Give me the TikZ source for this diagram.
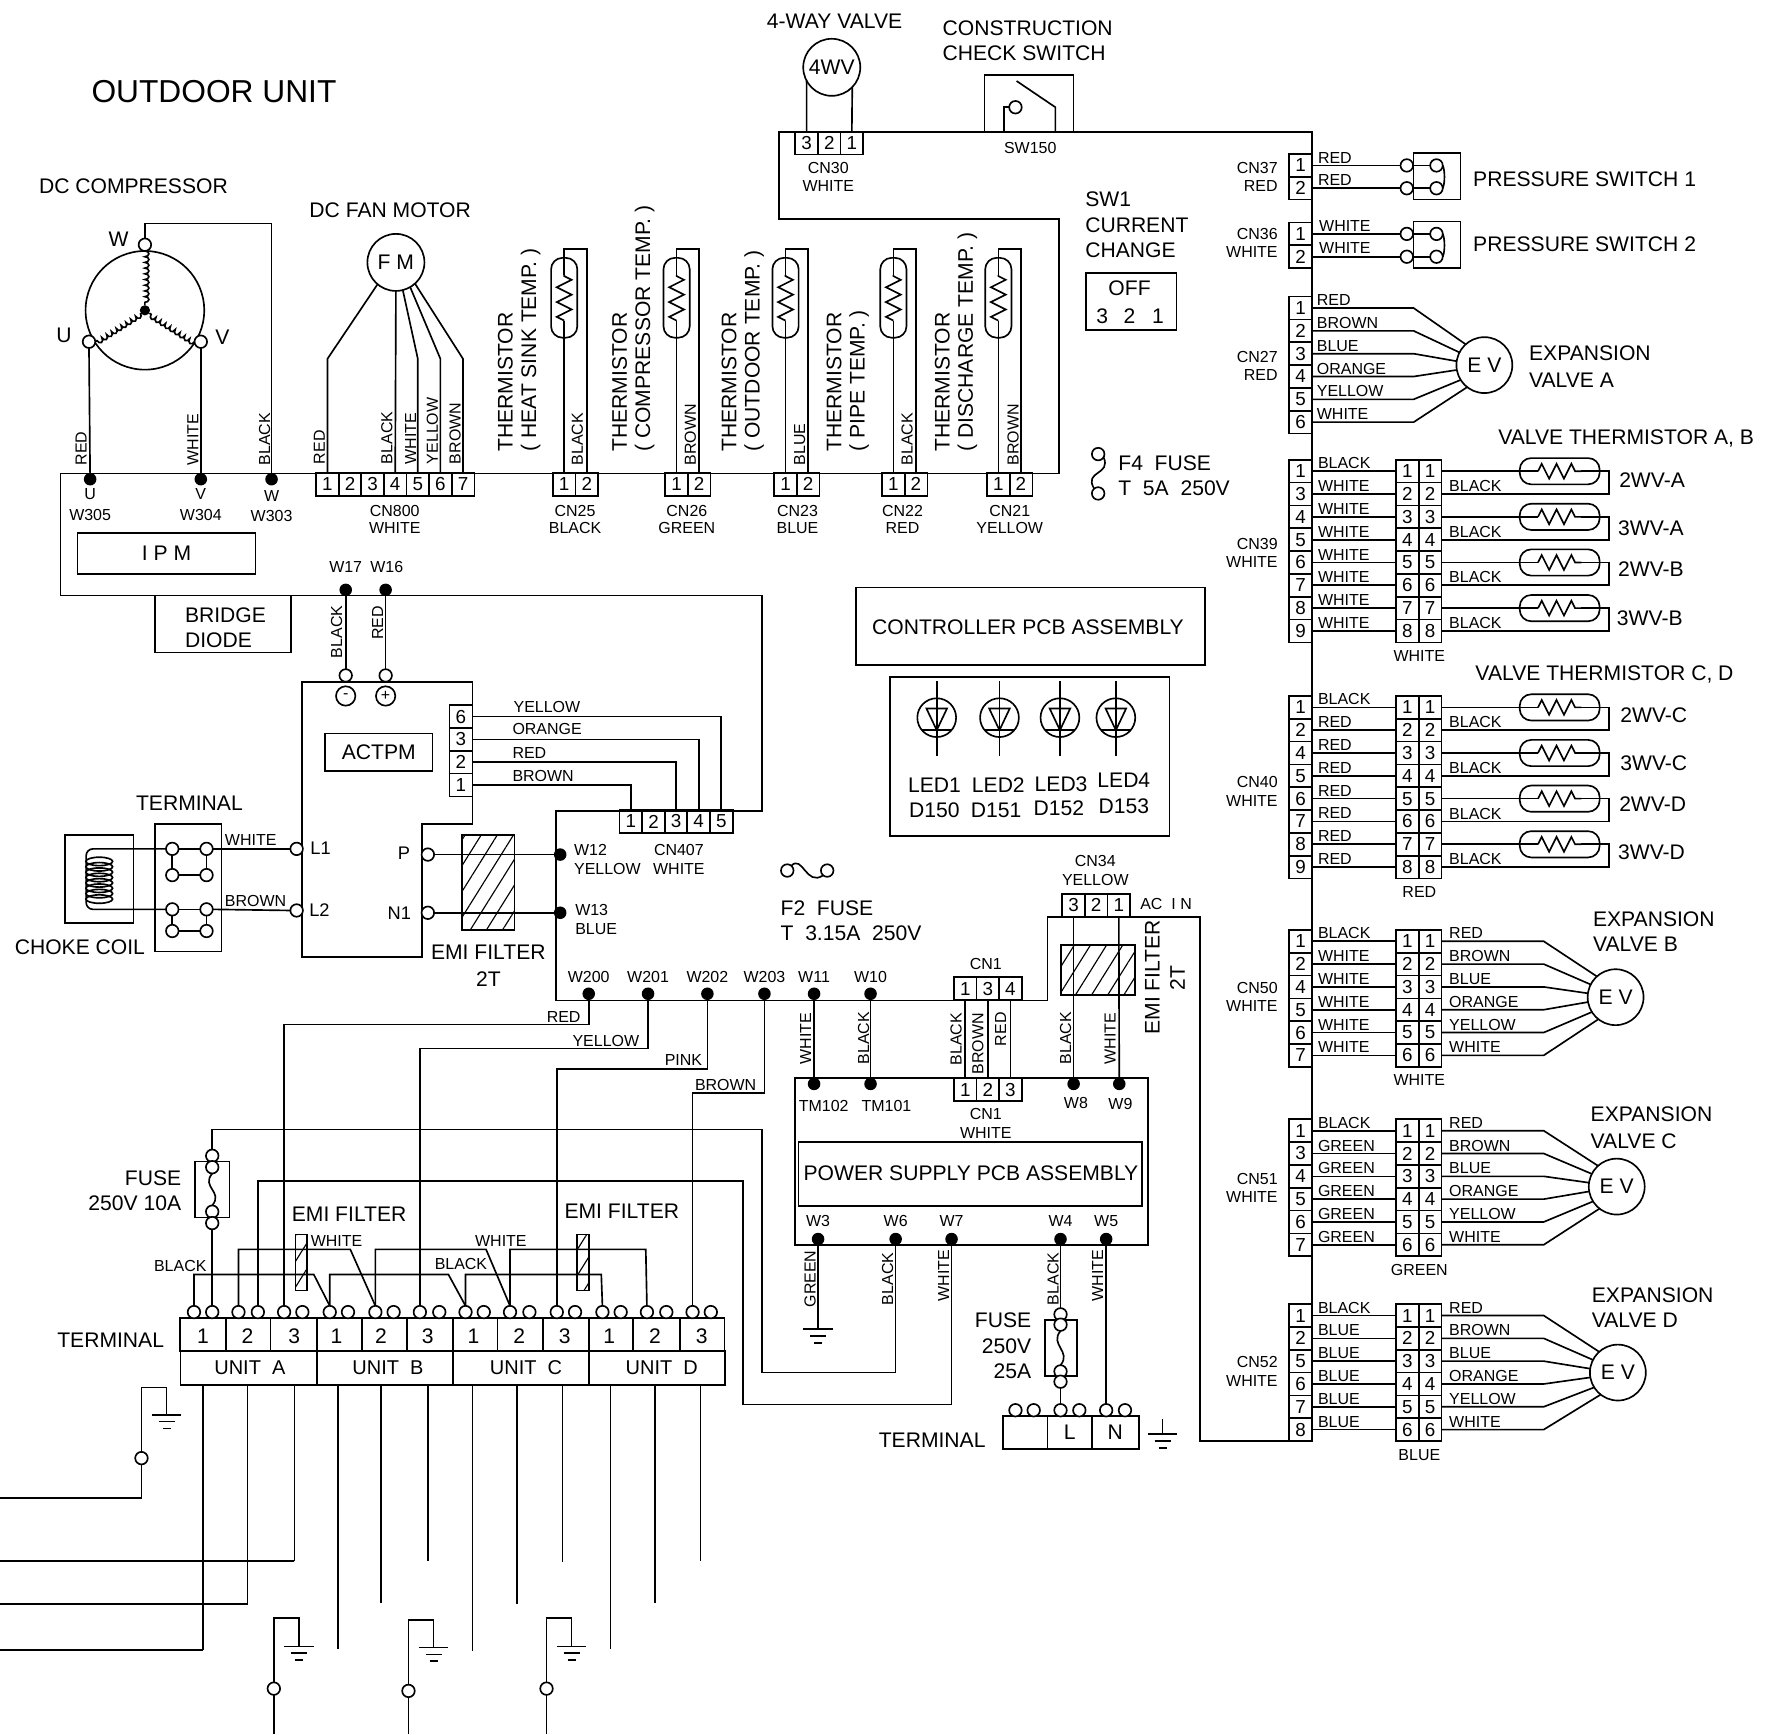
\documentclass[tikz,border=0pt]{standalone}
\usepackage{fontspec}
\setmainfont{Liberation Sans}
\usetikzlibrary{decorations.pathmorphing,patterns.meta}

\tikzset{
	wire/.style={line width=1.45pt},
	board/.style={line width=1.5pt},
	slbl/.style={inner sep=0pt, font=\fontsize{14}{16}\selectfont},
	wlbl/.style={slbl, anchor=west},
	rlbl/.style={slbl, anchor=west, rotate=90},
	mlbl/.style={inner sep=0pt, font=\fontsize{18.5}{21}\selectfont},
	llbl/.style={mlbl, anchor=west},
	mrot/.style={mlbl, anchor=west, rotate=90},
	rrbl/.style={mlbl, anchor=east},
	pinbox/.style={draw, rectangle, line width=1.45pt, minimum width=20pt, minimum height=20pt, inner sep=0pt, outer sep=0pt, font=\fontsize{16.5}{18}\selectfont},
	pcb/.style={draw, rectangle, line width=1.45pt, inner sep=0pt, outer sep=0pt, font=\fontsize{18.5}{21}\selectfont},
	ring/.style={draw, circle, line width=1.45pt, inner sep=0pt, outer sep=0pt, font=\fontsize{18.5}{21}\selectfont},
	term/.style={draw, circle, fill=white, line width=1.45pt, minimum size=11pt, inner sep=0pt, outer sep=0pt},
	sdot/.style={circle, fill=black, minimum size=11pt, inner sep=0pt, outer sep=0pt},
	caph/.style={draw, rectangle, rounded corners=10pt, line width=1.45pt, minimum width=70pt, minimum height=23pt, inner sep=0pt, outer sep=0pt},
	capv/.style={draw, rectangle, rounded corners=10pt, line width=1.45pt, minimum width=23pt, minimum height=70pt, inner sep=0pt, outer sep=0pt},
	zigline/.style={wire, decorate, decoration={zigzag, amplitude=6.5pt, segment length=13pt}},
	coilline/.style={wire, decorate, decoration={bumps, amplitude=3.5pt, segment length=10pt}},
	hatch/.style={draw, rectangle, line width=1.45pt, inner sep=0pt, outer sep=0pt, pattern={Lines[angle=58, distance=12pt, line width=1pt]}}
}

% row and column of connector pins
\newcommand{\pinrow}[4]{\foreach \txt [count=\idx] in {#4} \node [pinbox] (#1-\idx) at ({#2+19.8*(\idx-1)},#3) {\txt};}
\newcommand{\pincol}[4]{\foreach \txt [count=\idx] in {#4} \node [pinbox] (#1-\idx) at (#2,{#3+20*(\idx-1)}) {\txt};}
\newcommand{\wirelabels}[4]{\foreach \txt [count=\idx] in {#4} \node [wlbl] (#1-lb\idx) at (#2,{#3+20*(\idx-1)}) {\txt};}

% thermistor on the upper board edge
\newcommand{\thermv}[2]{
	\pinrow{#1}{#2}{424.5}{1,2}
	\node [capv] (#1-cap) at (#1-1.north |- 0,261) {};
	\coordinate (#1-top) at (#1-1.north |- 0,218);
	\draw [wire] (#1-1.north) -- ([yshift=15pt]#1-cap.south);
	\draw [zigline] ([yshift=15pt]#1-cap.south) -- ([yshift=-15pt]#1-cap.north);
	\draw [wire] ([yshift=-15pt]#1-cap.north) -- (#1-top) -| (#1-2.north);
}

% two way / three way valve thermistors
\newcommand{\valveblock}[6]{
	\pincol{#1}{1140}{#2}{#3}
	\pincol{#1a}{1233.5}{#2}{1,...,8}
	\pincol{#1b}{1253.5}{#2}{1,...,8}
	\wirelabels{#1}{1155}{#2-7}{#4}
	\foreach \idx in {1,...,8} \draw [wire] (#1-\idx.east) -- (#1a-\idx.west);
	\foreach \n/\a/\b in {1/1/2,2/3/4,3/5/6,4/7/8} {
		\node [caph] (#1-cap\n) at (1367,{#2+40*(\n-1)}) {};
		\coordinate (#1-rt\n) at (1410,{#2+40*(\n-1)});
		\draw [wire] (#1b-\a.east) -- ([xshift=16pt]#1-cap\n.west);
		\draw [zigline] ([xshift=16pt]#1-cap\n.west) -- ([xshift=-16pt]#1-cap\n.east);
		\draw [wire] ([xshift=-16pt]#1-cap\n.east) -- (#1-rt\n) |- (#1b-\b.east);
		\node [wlbl] (#1-bl\n) at (1270,{#2+40*(\n-1)+13}) {BLACK};
	}
	\node [slbl] (#1-colour) at (1244,{#2+162}) {#6};
	#5
}

% expansion valve
\newcommand{\evblock}[7]{
	\pincol{#1}{1140}{#2}{#3}
	\pincol{#1a}{1233.5}{#2}{1,...,6}
	\pincol{#1b}{1253.5}{#2}{1,...,6}
	\wirelabels{#1}{1155}{#2-7}{#4}
	\wirelabels{#1r}{1270}{#2-7}{RED,BROWN,BLUE,ORANGE,YELLOW,WHITE}
	\node [ring, minimum size=49pt] (#1-ev) at (#5,#6) {E V};
	\foreach \idx/\ang in {1/132,2/153,3/172,4/190,5/212,6/232} {
		\coordinate (#1-bn\idx) at (1353,{#2+20*(\idx-1)});
		\draw [wire] (#1-\idx.east) -- (#1a-\idx.west);
		\draw [wire] (#1b-\idx.east) -- (#1-bn\idx) -- (#1-ev.\ang);
	}
	\node [slbl] (#1-colour) at (1244,{#2+122}) {#7};
}

% earth symbol
\newcommand{\gndsym}[3]{
	\coordinate (#1) at (#2,#3);
	\draw [wire] ([xshift=-13pt]#1) -- ([xshift=13pt]#1);
	\draw [wire] ([xshift=-7pt,yshift=-6pt]#1) -- ([xshift=7pt,yshift=-6pt]#1);
	\draw [wire] ([xshift=-3.5pt,yshift=-12pt]#1) -- ([xshift=3.5pt,yshift=-12pt]#1);
}

\begin{document}
\begin{tikzpicture}[x=1pt, y=-1pt]
\useasboundingbox (0,0) rectangle (1568,1520);

%%% board outline
\draw [board] (53,415) -- (928,415) -- (928,192) -- (683,192) -- (683,116) -- (1150,116) -- (1150,1263) -- (1052,1263) -- (1052,804) -- (918,804) -- (918,877) -- (487,877) -- (487,711) -- (668,711) -- (668,522) -- (53,522) -- cycle;

%%% titles
\node [llbl, font=\fontsize{27.8}{30}\selectfont] (title) at (80,80) {OUTDOOR UNIT};
\node [llbl] (comp-title) at (34,163) {DC COMPRESSOR};
\node [llbl] (fan-title) at (271,184) {DC FAN MOTOR};
\node [llbl] (v4wv-title) at (672,19) {4-WAY VALVE};
\node [llbl] (sw150-title1) at (826,25) {CONSTRUCTION};
\node [llbl] (sw150-title2) at (826,47) {CHECK SWITCH};

%%% COMPRESSOR
\node [ring, minimum size=104pt] (comp) at (127,272) {};
\node [term] (comp-w) at (127,214.5) {};
\node [term] (comp-u) at (78,299.5) {};
\node [term] (comp-v) at (176,299.5) {};
\node [circle, fill=black, minimum size=9pt, inner sep=0pt] (comp-c) at (127,272) {};
\draw [coilline] (comp-w.south) -- (comp-c);
\draw [coilline] (comp-c) -- (comp-u.east);
\draw [coilline] (comp-v.west) -- (comp-c);
\node [mlbl] (comp-lw) at (104,210) {W};
\node [mlbl] (comp-lu) at (56,294) {U};
\node [mlbl] (comp-lv) at (195,296) {V};
\node [sdot] (w305) at (79,420) {};
\node [sdot] (w304) at (176,420) {};
\node [sdot] (w303) at (238,420) {};
\draw [wire] (comp-u.south) -- (w305);
\draw [wire] (comp-v.south) -- (w304);
\draw [wire] (comp-w.north) -- ++(0,-13) -| (w303);
\node [rlbl] (w305-col) at (71,408) {RED};
\node [rlbl] (w304-col) at (169,408) {WHITE};
\node [rlbl] (w303-col) at (232,408) {BLACK};
\node [slbl] (w305-a) at (79,433) {U};
\node [slbl] (w305-b) at (79,451) {W305};
\node [slbl] (w304-a) at (176,433) {V};
\node [slbl] (w304-b) at (176,451) {W304};
\node [slbl] (w303-a) at (238,435) {W};
\node [slbl] (w303-b) at (238,452) {W303};
\node [pcb, minimum width=156pt, minimum height=36pt] (ipm) at (146,485) {I P M};
\node [pcb, minimum width=119pt, minimum height=50pt] (bridge) at (195.5,547) {};
\node [llbl] (bridge-a) at (162,539) {BRIDGE};
\node [llbl] (bridge-b) at (162,561) {DIODE};

%%% FAN MOTOR
\node [ring, minimum size=50pt] (fm) at (347,230) {F M};
\pinrow{cn800}{287}{424.5}{1,2,3,4,5,6,7}
\draw [wire] (cn800-1.north) -- ++(0,-100) -- (fm.230);
\draw [wire] (cn800-4.north) -- (fm.270);
\draw [wire] (cn800-5.north) -- ++(0,-100) -- (fm.284);
\draw [wire] (cn800-6.north) -- ++(0,-100) -- (fm.300);
\draw [wire] (cn800-7.north) -- ++(0,-100) -- (fm.312);
\node [rlbl] (cn800-c1) at (280,407) {RED};
\node [rlbl] (cn800-c4) at (339,407) {BLACK};
\node [rlbl] (cn800-c5) at (360,407) {WHITE};
\node [rlbl] (cn800-c6) at (379,407) {YELLOW};
\node [rlbl] (cn800-c7) at (399,407) {BROWN};
\node [slbl] (cn800-a) at (346,448) {CN800};
\node [slbl] (cn800-b) at (346,463) {WHITE};

%%% THERMISTORS
\thermv{cn25}{494.5}
\thermv{cn26}{593}
\thermv{cn23}{688.5}
\thermv{cn22}{783}
\thermv{cn21}{875}
\node [rlbl] (cn25-c) at (506,408) {BLACK};
\node [rlbl] (cn26-c) at (605,408) {BROWN};
\node [rlbl] (cn23-c) at (701,408) {BLUE};
\node [rlbl] (cn22-c) at (795,408) {BLACK};
\node [rlbl] (cn21-c) at (888,408) {BROWN};
\foreach \nm/\xx/\la/\lb in {cn25/504/CN25/BLACK,cn26/602/CN26/GREEN,cn23/699/CN23/BLUE,cn22/791/CN22/RED,cn21/885/CN21/YELLOW} {
	\node [slbl] (\nm-a) at (\xx,448) {\la};
	\node [slbl] (\nm-b) at (\xx,463) {\lb};
}
\node [mrot] (th25-a) at (443,396) {THERMISTOR};
\node [mrot] (th25-b) at (465,396) {( HEAT SINK TEMP. )};
\node [mrot] (th26-a) at (543,396) {THERMISTOR};
\node [mrot] (th26-b) at (565,396) {( COMPRESSOR TEMP. )};
\node [mrot] (th23-a) at (639,396) {THERMISTOR};
\node [mrot] (th23-b) at (661,396) {( OUTDOOR TEMP. )};
\node [mrot] (th22-a) at (731,396) {THERMISTOR};
\node [mrot] (th22-b) at (753,396) {( PIPE TEMP. )};
\node [mrot] (th21-a) at (826,396) {THERMISTOR};
\node [mrot] (th21-b) at (848,396) {( DISCHARGE TEMP. )};

%%% 4 WAY VALVE, SWITCHES
\node [ring, minimum size=50pt] (v4wv) at (729,59) {4WV};
\pinrow{cn30}{707}{125.5}{3,2,1}
\draw [wire] (cn30-1.north) -- (v4wv.208);
\draw [wire] (cn30-3.north) -- (v4wv.316);
\node [slbl] (cn30-a) at (726,147) {CN30};
\node [slbl] (cn30-b) at (726,163) {WHITE};
\node [pcb, minimum width=78pt, minimum height=50pt] (sw150) at (902,91) {};
\node [term] (sw150-c) at (890,94) {};
\coordinate (sw150-a) at (880,116);
\coordinate (sw150-k) at (880,94);
\coordinate (sw150-p) at (891,71);
\coordinate (sw150-q) at (925,94);
\coordinate (sw150-r) at (925,116);
\draw [wire] (sw150-a) -- (sw150-k) -- (sw150-c.west);
\draw [wire] (sw150-p) -- (sw150-q) -- (sw150-r);
\node [slbl] (sw150-l) at (903,130) {SW150};
\node [llbl] (sw1-a) at (951,175) {SW1};
\node [llbl] (sw1-b) at (951,197) {CURRENT};
\node [llbl] (sw1-c) at (951,219) {CHANGE};
\node [pcb, minimum width=79pt, minimum height=50pt] (sw1) at (991.5,264) {};
\node [mlbl] (sw1-off) at (990,253) {OFF};
\node [mlbl] (sw1-3) at (966,277) {3};
\node [mlbl] (sw1-2) at (990,277) {2};
\node [mlbl] (sw1-1) at (1015,277) {1};
\node [term] (f4-a) at (962.5,398) {};
\node [term] (f4-b) at (962.5,432.5) {};
\draw [wire] (f4-a.-30) .. controls +(7,16) and +(-9.5,-16) .. (f4-b.130);
\node [llbl] (f4-l1) at (980,406) {F4\ \ FUSE};
\node [llbl] (f4-l2) at (980,428) {T\ \ 5A\ \ 250V};

%%% PRESSURE SWITCHES
\foreach \nm/\yy/\la/\lb/\yl/\yt/\ttl in {cn37/145/CN37/RED/147/157/PRESSURE SWITCH 1,cn36/205/CN36/WHITE/205/214/PRESSURE SWITCH 2} {
	\pincol{\nm}{1140}{\yy}{1,2}
	\node [pcb, minimum width=41pt, minimum height=41pt] (\nm-box) at (1259.5,\yy+9.5) {};
	\foreach \k in {1,2} {
		\node [term] (\nm-o\k) at (1233,{\yy+20*(\k-1)}) {};
		\node [term] (\nm-i\k) at (1259,{\yy+20*(\k-1)}) {};
		\draw [wire] (\nm-\k.east) -- (\nm-o\k.west);
		\draw [wire] (\nm-o\k.east) -- (\nm-i\k.west);
	}
	\draw [wire] (\nm-i1.east) .. controls +(2,4) and +(2,-4) .. (\nm-i2.east);
	\node [slbl, anchor=east] (\nm-a) at (1120,\yl) {\la};
	\node [slbl, anchor=east] (\nm-b) at (1120,\yl+16) {\lb};
	\node [llbl] (\nm-ttl) at (1291,\yt) {\ttl};
}
\wirelabels{cn37}{1155}{138.5}{RED}
\node [wlbl] (cn37-lb2) at (1155,158) {RED};
\wirelabels{cn36}{1156}{198}{WHITE}
\node [wlbl] (cn36-lb2) at (1156,217) {WHITE};

%%% EXPANSION VALVE A
\pincol{cn27}{1140}{270}{1,2,3,4,5,6}
\node [ring, minimum size=49pt] (ev-a) at (1301,320) {E V};
\foreach \idx/\ang in {1/132,2/153,3/172,4/190,5/212,6/232} {
	\coordinate (cn27-bn\idx) at (1239,{270+20*(\idx-1)});
	\draw [wire] (cn27-\idx.east) -- (cn27-bn\idx) -- (ev-a.\ang);
}
\wirelabels{cn27}{1154}{263}{RED,BROWN,BLUE,ORANGE,YELLOW,WHITE}
\node [slbl, anchor=east] (cn27-a) at (1120,313) {CN27};
\node [slbl, anchor=east] (cn27-b) at (1120,329) {RED};
\node [llbl] (ev-a-l1) at (1340,310) {EXPANSION};
\node [llbl] (ev-a-l2) at (1340,333) {VALVE A};

%%% VALVE THERMISTORS
\valveblock{cn39}{413}{1,3,4,5,6,7,8,9}{BLACK,WHITE,WHITE,WHITE,WHITE,WHITE,WHITE,WHITE}{}{WHITE}
\node [llbl] (vt-ab) at (1313,384) {VALVE THERMISTOR A, B};
\node [slbl, anchor=east] (cn39-a) at (1120,477) {CN39};
\node [slbl, anchor=east] (cn39-b) at (1120,493) {WHITE};
\node [llbl] (wv2a) at (1419,421) {2WV-A};
\node [llbl] (wv3a) at (1418,463) {3WV-A};
\node [llbl] (wv2b) at (1418,499) {2WV-B};
\node [llbl] (wv3b) at (1417,542) {3WV-B};
\valveblock{cn40}{620}{1,2,4,5,6,7,8,9}{BLACK,RED,RED,RED,RED,RED,RED,RED}{}{RED}
\node [llbl] (vt-cd) at (1293,591) {VALVE THERMISTOR C, D};
\node [slbl, anchor=east] (cn40-a) at (1120,685) {CN40};
\node [slbl, anchor=east] (cn40-b) at (1120,702) {WHITE};
\node [llbl] (wv2c) at (1420,627) {2WV-C};
\node [llbl] (wv3c) at (1420,669) {3WV-C};
\node [llbl] (wv2d) at (1419,705) {2WV-D};
\node [llbl] (wv3d) at (1418,747) {3WV-D};

%%% EXPANSION VALVES B C D
\evblock{cn50}{825}{1,2,4,5,6,7}{BLACK,WHITE,WHITE,WHITE,WHITE,WHITE}{1416}{874}{WHITE}
\node [slbl, anchor=east] (cn50-a) at (1120,866) {CN50};
\node [slbl, anchor=east] (cn50-b) at (1120,882) {WHITE};
\node [llbl] (ev-b-l1) at (1396,806) {EXPANSION};
\node [llbl] (ev-b-l2) at (1396,828) {VALVE B};
\evblock{cn51}{991}{1,3,4,5,6,7}{BLACK,GREEN,GREEN,GREEN,GREEN,GREEN}{1417}{1040}{GREEN}
\node [slbl, anchor=east] (cn51-a) at (1120,1033) {CN51};
\node [slbl, anchor=east] (cn51-b) at (1120,1049) {WHITE};
\node [llbl] (ev-c-l1) at (1394,977) {EXPANSION};
\node [llbl] (ev-c-l2) at (1394,1000) {VALVE C};
\evblock{cn52}{1153}{1,2,5,6,7,8}{BLACK,BLUE,BLUE,BLUE,BLUE,BLUE}{1418}{1203}{BLUE}
\node [slbl, anchor=east] (cn52-a) at (1120,1194) {CN52};
\node [slbl, anchor=east] (cn52-b) at (1120,1210) {WHITE};
\node [llbl] (ev-d-l1) at (1395,1135) {EXPANSION};
\node [llbl] (ev-d-l2) at (1395,1157) {VALVE D};

%%% CONTROLLER PCB, LEDS
\node [pcb, minimum width=306pt, minimum height=68pt] (ctrl) at (903,549) {};
\node [mlbl] (ctrl-l) at (901,550) {CONTROLLER PCB ASSEMBLY};
\node [pcb, minimum width=245pt, minimum height=139pt] (ledbox) at (902.5,663) {};
\foreach \n/\xx in {1/821,2/876,3/929,4/978} {
	\node [ring, minimum size=34pt] (led\n) at (\xx,629) {};
	\coordinate (led\n-t) at (\xx,597);
	\coordinate (led\n-b) at (\xx,663);
	\draw [wire] (led\n-t) -- (led\n-b);
	\draw [wire] ([shift={(-9,-8)}]led\n.center) -- ([shift={(9,-8)}]led\n.center) -- ([shift={(0,11)}]led\n.center) -- cycle;
	\draw [wire] ([shift={(-13,11)}]led\n.center) -- ([shift={(13,11)}]led\n.center);
}
\foreach \n/\xa/\ya/\xb/\yb/\la/\lb in {1/819/688/819/710/LED1/D150,2/875/688/873/710/LED2/D151,3/930/687/928/708/LED3/D152,4/985/684/985/707/LED4/D153} {
	\node [mlbl] (led\n-a) at (\xa,\ya) {\la};
	\node [mlbl] (led\n-d) at (\xb,\yb) {\lb};
}

%%% DC LINK, ACTPM
\node [sdot] (w17) at (303,517) {};
\node [sdot] (w16) at (338,517) {};
\node [slbl] (w17-l) at (303,497) {W17};
\node [slbl] (w16-l) at (339,497) {W16};
\draw [board] (265,598) -- (414,598) -- (414,722) -- (370,722) -- (370,839) -- (265,839) -- cycle;
\node [term] (act-m) at (303,592) {};
\node [term] (act-p) at (338,592) {};
\draw [wire] (w17) -- (act-m.north);
\draw [wire] (w16) -- (act-p.north);
\node [rlbl] (w17-c) at (295,577) {BLACK};
\node [rlbl] (w16-c) at (331,561) {RED};
\node [ring, minimum size=17pt, font=\fontsize{14}{16}\selectfont] (act-ms) at (303,610) {-};
\node [ring, minimum size=17pt, font=\fontsize{14}{16}\selectfont] (act-ps) at (338,610) {+};
\node [pcb, minimum width=94pt, minimum height=33pt] (actpm) at (332,659.5) {ACTPM};
\pincol{act}{404}{628}{6,3,2,1}
\pinrow{cn407}{553}{720}{1,2,3,4,5}
\draw [wire] (act-1.east) -| (cn407-5.north);
\draw [wire] (act-2.east) -| (cn407-4.north);
\draw [wire] (act-3.east) -| (cn407-3.north);
\draw [wire] (act-4.east) -| (cn407-1.north);
\node [wlbl] (act-c1) at (450,620) {YELLOW};
\node [wlbl] (act-c2) at (449,639) {ORANGE};
\node [wlbl] (act-c3) at (449,660) {RED};
\node [wlbl] (act-c4) at (449,680) {BROWN};
\node [slbl] (cn407-a) at (595,745) {CN407};
\node [slbl] (cn407-b) at (595,762) {WHITE};
\node [term] (act-pp) at (375,749) {};
\node [term] (act-n1) at (375,800) {};
\node [sdot] (w12) at (491,749) {};
\node [sdot] (w13) at (491,800) {};
\node [hatch, minimum width=46pt, minimum height=83pt] (emi-dc) at (428,773.5) {};
\draw [wire] (act-pp.east) -- (w12);
\draw [wire] (act-n1.east) -- (w13);
\node [mlbl, font=\fontsize{16}{18}\selectfont] (act-lp) at (354,748) {P};
\node [mlbl, font=\fontsize{16}{18}\selectfont] (act-ln) at (350,800) {N1};
\node [mlbl] (emi-dc-a) at (428,835) {EMI FILTER};
\node [mlbl] (emi-dc-b) at (428,858) {2T};
\node [wlbl] (w12-a) at (503,745) {W12};
\node [wlbl] (w12-b) at (503,762) {YELLOW};
\node [wlbl] (w13-a) at (504,798) {W13};
\node [wlbl] (w13-b) at (504,814) {BLUE};

%%% CHOKE COIL, TERMINAL
\node [pcb, minimum width=60pt, minimum height=77pt] (choke) at (87,770.5) {};
\node [pcb, minimum width=58pt, minimum height=112pt] (ch-term) at (165,778) {};
\node [mlbl] (ch-term-l) at (166,704) {TERMINAL};
\node [mlbl] (choke-l) at (70,830) {CHOKE COIL};
\foreach \nm/\xx/\yy in {a/151/744,b/181/744,c/151/767,d/181/767,e/151/797,f/181/797,g/151/816,h/181/816}
	\node [term] (ct-\nm) at (\xx,\yy) {};
\node [term] (act-l1) at (260,744) {};
\node [term] (act-l2) at (260,798) {};
\coordinate (coil-l) at (75.5,770);
\draw [wire, rounded corners=6pt] (ct-a.west) -| (coil-l) |- (ct-e.west);
\foreach \yy in {755,759.7,764.4,769.1,773.8,778.5,783.2,788}
	\draw [wire] (87,\yy) ellipse [x radius=11.7pt, y radius=3.7pt];
\draw [wire] (ct-a.east) -- (ct-b.west);
\draw [wire] (ct-e.east) -- (ct-f.west);
\draw [wire] (ct-b.east) -- (act-l1.west);
\draw [wire] (ct-f.east) -- (act-l2.west);
\draw [wire] (ct-a.south) -- (ct-c.north);
\draw [wire] (ct-b.south) -- (ct-d.north);
\draw [wire] (ct-c.east) -- (ct-d.west);
\draw [wire] (ct-e.south) -- (ct-g.north);
\draw [wire] (ct-f.south) -- (ct-h.north);
\draw [wire] (ct-g.east) -- (ct-h.west);
\node [wlbl] (ct-w) at (197,736) {WHITE};
\node [wlbl] (ct-br) at (197,790) {BROWN};
\node [mlbl, font=\fontsize{16}{18}\selectfont] (act-ll1) at (281,743) {L1};
\node [mlbl, font=\fontsize{16}{18}\selectfont] (act-ll2) at (280,798) {L2};

%%% F2 FUSE
\node [term] (f2-a) at (690,763) {};
\node [term] (f2-b) at (725,763) {};
\draw [wire] (f2-a.50) .. controls +(10,-10) and +(-15,10) .. (f2-b.230);
\node [llbl] (f2-l1) at (684,796) {F2\ \ FUSE};
\node [llbl] (f2-l2) at (684,818) {T\ \ 3.15A\ \ 250V};

%%% RAIL CONNECTIONS
\foreach \nm/\xx/\la in {w200/516/W200,w201/568/W201,w202/620/W202,w203/670/W203,w11/713.5/W11,w10/763/W10} {
	\node [sdot] (\nm) at (\xx,871) {};
	\node [slbl] (\nm-l) at (\xx,856) {\la};
}
\pinrow{cn1a}{846}{866.5}{1,3,4}
\node [slbl] (cn1a-l) at (864,845) {CN1};
\pinrow{cn34}{941}{793.5}{3,2,1}
\node [slbl] (cn34-a) at (960,755) {CN34};
\node [slbl] (cn34-b) at (960,771) {YELLOW};
\node [slbl] (ac-in) at (1022,792) {AC\ \ I N};
\node [hatch, minimum width=65pt, minimum height=44pt] (emi-ac) at (962.5,850) {};
\node [mrot] (emi-ac-a) at (1010,907) {EMI FILTER};
\node [mrot] (emi-ac-b) at (1032,868) {2T};

%%% POWER SUPPLY PCB
\node [pcb, minimum width=309pt, minimum height=146pt] (psu) at (851.5,1018) {};
\node [pcb, minimum width=301pt, minimum height=56pt] (psu-in) at (850.5,1029) {};
\node [mlbl] (psu-l) at (851,1028) {POWER SUPPLY PCB ASSEMBLY};
\pinrow{cn1b}{846}{955}{1,2,3}
\node [slbl] (cn1b-a) at (864,976) {CN1};
\node [slbl] (cn1b-b) at (864,993) {WHITE};
\node [sdot] (tm102) at (713.5,950) {};
\node [sdot] (tm101) at (763,950) {};
\node [sdot] (w8) at (941,950) {};
\node [sdot] (w9) at (981,950) {};
\node [slbl] (tm102-l) at (722,969) {TM102};
\node [slbl] (tm101-l) at (777,969) {TM101};
\node [slbl] (w8-l) at (943,967) {W8};
\node [slbl] (w9-l) at (982,968) {W9};
\draw [wire] (w11) -- (tm102);
\draw [wire] (w10) -- (tm101);
\draw [wire] (cn1a-1.south) -- (cn1b-1.north);
\draw [wire] (cn1a-2.south) -- (cn1b-2.north);
\draw [wire] (cn1a-3.south) -- (cn1b-3.north);
\draw [wire] (cn34-1.south) -- (w8);
\draw [wire] (cn34-3.south) -- (w9);
\node [rlbl] (w11-c) at (706,933) {WHITE};
\node [rlbl] (w10-c) at (757,933) {BLACK};
\node [rlbl] (cn1-c1) at (838,934) {BLACK};
\node [rlbl] (cn1-c2) at (857,942) {BROWN};
\node [rlbl] (cn1-c3) at (877,917) {RED};
\node [rlbl] (w8-c) at (934,933) {BLACK};
\node [rlbl] (w9-c) at (973,933) {WHITE};
\foreach \nm/\xx/\la in {w3/717/W3,w6/785/W6,w7/834/W7,w4/929.5/W4,w5/969.5/W5} {
	\node [sdot] (\nm) at (\xx,1086) {};
	\node [slbl] (\nm-l) at (\xx,1070) {\la};
}
\gndsym{gnd-w3}{717}{1165}
\draw [wire] (w3) -- (gnd-w3);
\node [rlbl] (w3-c) at (710,1146) {GREEN};
\node [rlbl] (w6-c) at (778,1144) {BLACK};
\node [rlbl] (w7-c) at (827,1141) {WHITE};
\node [rlbl] (w4-c) at (923,1144) {BLACK};
\node [rlbl] (w5-c) at (962,1141) {WHITE};

%%% MAIN FUSE, TERMINAL L N
\node [pcb, minimum width=28pt, minimum height=49pt] (f25) at (930,1181.5) {};
\foreach \nm/\yy in {a/1152,b/1161,c/1202,d/1211}
	\node [term] (f25-\nm) at (929.5,\yy) {};
\draw [wire] (f25-b.south) .. controls +(-10,12) and +(10,-12) .. (f25-c.north);
\node [rrbl] (f25-l1) at (904,1157) {FUSE};
\node [rrbl] (f25-l2) at (904,1180) {250V};
\node [rrbl] (f25-l3) at (904,1202) {25A};
\node [pcb, minimum width=39pt, minimum height=29pt] (ln-0) at (898.5,1255.5) {};
\node [pcb, minimum width=39pt, minimum height=29pt] (ln-l) at (937.5,1255.5) {L};
\node [pcb, minimum width=41pt, minimum height=29pt] (ln-n) at (977.5,1255.5) {N};
\foreach \k/\xx in {1/890,2/906,3/929.5,4/946,5/969.5,6/986}
	\node [term] (lt-\k) at (\xx,1236) {};
\draw [wire] (w4) -- (f25-a.north);
\draw [wire] (f25-d.south) -- (lt-3.north);
\draw [wire] (w5) -- (lt-5.north);
\node [mlbl] (ln-t) at (817,1262) {TERMINAL};
\coordinate (gnd-ln-t) at (1019,1244);
\gndsym{gnd-ln}{1019}{1257}
\draw [wire] (gnd-ln-t) -- (gnd-ln);

%%% UNIT TERMINALS
\foreach \k/\xx/\ww in {1/178/40,2/217.5/39,3/257.5/41,4/297.5/39,5/337/40,6/377/40,7/416.5/39,8/456/40,9/496/40,10/535.5/39,11/575.5/41,12/615.5/39}
	\node [pcb, minimum width=\ww pt, minimum height=29pt] (ter-\k) at (\xx,1169.5) {};
\foreach \k/\xx/\txt in {1/178/1,2/217/2,3/258/3,4/295/1,5/334/2,6/375/3,7/415/1,8/455/2,9/495/3,10/534/1,11/574/2,12/615/3}
	\node [mlbl] (ter-n\k) at (\xx,1171) {\txt};
\foreach \nm/\xx in {a/218,b/337.5,c/456.5,d/575.5}
	\node [pcb, minimum width=119.5pt, minimum height=30pt] (unit-\nm) at (\xx,1199) {};
\foreach \nm/\xx/\txt in {a/219/A,b/340/B,c/461/C,d/580/D}
	\node [mlbl, font=\fontsize{17.5}{20}\selectfont] (unit-l\nm) at (\xx,1199) {UNIT\ \ \txt};
\node [mlbl] (ter-l) at (97,1175) {TERMINAL};
\foreach \k/\xx in {1/170,2/186,3/209,4/226,5/249,6/265,7/289,8/305,9/329,10/345,11/368,12/385,13/408,14/424,15/447,16/464,17/488,18/504,19/528,20/544,21/567,22/584,23/607,24/623}
	\node [term] (st-\k) at (\xx,1150) {};

%%% wires leaving the terminals
\foreach \k/\un/\xx/\yy in {1/a/178/1446,2/a/217/1406,3/a/258/1368,4/b/296/1445,5/b/334/1405,6/b/375/1368,7/c/414/1447,8/c/453/1406,9/c/493/1369,10/d/535/1445,11/d/574/1405,12/d/614/1368} {
	\coordinate (end-\k) at (\xx,\yy);
	\draw [wire] (end-\k |- unit-\un.south) -- (end-\k);
}
\coordinate (left-1) at (0,1446);
\coordinate (left-2) at (0,1406);
\coordinate (left-3) at (0,1368);
\draw [wire] (end-1) -- (left-1);
\draw [wire] (end-2) -- (left-2);
\draw [wire] (end-3) -- (left-3);

%%% earth points
\gndsym{gnd-a}{146}{1240}
\coordinate (gnd-a-t) at (146,1216);
\node [term] (gnd-a-c) at (124,1278) {};
\coordinate (gnd-a-e) at (124,1313);
\coordinate (gnd-a-l) at (0,1313);
\draw [wire] (gnd-a-c.north) |- (gnd-a-t) -- (gnd-a);
\draw [wire] (gnd-a-c.south) -- (gnd-a-e) -- (gnd-a-l);
\foreach \nm/\xa/\xb/\yt/\yb/\yc in {b/240/262/1418/1443/1480,c/358/380/1420/1444/1482,d/479/501/1418/1443/1480} {
	\gndsym{gnd-\nm}{\xb}{\yb}
	\coordinate (gnd-\nm-t) at (\xb,\yt);
	\node [term] (gnd-\nm-c) at (\xa,\yc) {};
	\coordinate (gnd-\nm-e) at (\xa,1520);
	\draw [wire] (gnd-\nm-c.north) |- (gnd-\nm-t) -- (gnd-\nm);
	\draw [wire] (gnd-\nm-c.south) -- (gnd-\nm-e);
}

%%% FUSE 10A
\node [pcb, minimum width=30pt, minimum height=49pt] (f10) at (186,1042.5) {};
\foreach \nm/\yy in {a/1013,b/1023,c/1062,d/1072}
	\node [term] (f10-\nm) at (186,\yy) {};
\draw [wire] (f10-b.south) .. controls +(-10,12) and +(10,-12) .. (f10-c.north);
\draw [wire] (f10-d.south) -- (st-2.north);
\node [rrbl] (f10-l1) at (159,1033) {FUSE};
\node [rrbl] (f10-l2) at (159,1055) {250V 10A};

%%% EMI FILTERS ON THE JUMPERS
\node [hatch, minimum width=10pt, minimum height=49pt] (emi-a) at (264,1106.5) {};
\node [hatch, minimum width=10pt, minimum height=49pt] (emi-b) at (511,1106.5) {};
\node [mlbl] (emi-a-l) at (306,1064) {EMI FILTER};
\node [mlbl] (emi-b-l) at (545,1062) {EMI FILTER};
\foreach \a/\b/\xx/\yy in {1/7/275/1117,7/13/393/1117,13/19/527/1117,3/9/307/1095,9/15/426/1095,15/21/566/1095} {
	\coordinate (jmp-\a) at (\xx,\yy);
	\draw [wire] (st-\a.north) |- (jmp-\a) -- (st-\b.north);
}
\node [slbl] (jmp-w1) at (295,1088) {WHITE};
\node [slbl] (jmp-w2) at (439,1088) {WHITE};
\node [slbl] (jmp-b1) at (158,1110) {BLACK};
\node [slbl] (jmp-b2) at (404,1108) {BLACK};

%%% wires from the rail to the terminals
\draw [wire] (w200.south) -- ++(0,21.5) -| (st-5.north);
\draw [wire] (w201.south) -- ++(0,42.5) -| (st-11.north);
\draw [wire] (w202.south) -- ++(0,60.5) -| (st-17.north);
\draw [wire] (w203.south) -- ++(0,81.5) -| (st-23.north);
\coordinate (w6-c) at (668,1203);
\coordinate (w6-d) at (668,990);
\draw [wire] (w6) |- (w6-c) -- (w6-d) -| (f10-a.north);
\coordinate (w7-c) at (651,1231);
\coordinate (w7-d) at (651,1035);
\draw [wire] (w7) |- (w7-c) -- (w7-d) -| (st-4.north);
\node [slbl] (w200-c) at (494,891) {RED};
\node [slbl] (w201-c) at (531,912) {YELLOW};
\node [slbl] (w202-c) at (599,929) {PINK};
\node [slbl] (w203-c) at (636,951) {BROWN};

\end{tikzpicture}
\end{document}
